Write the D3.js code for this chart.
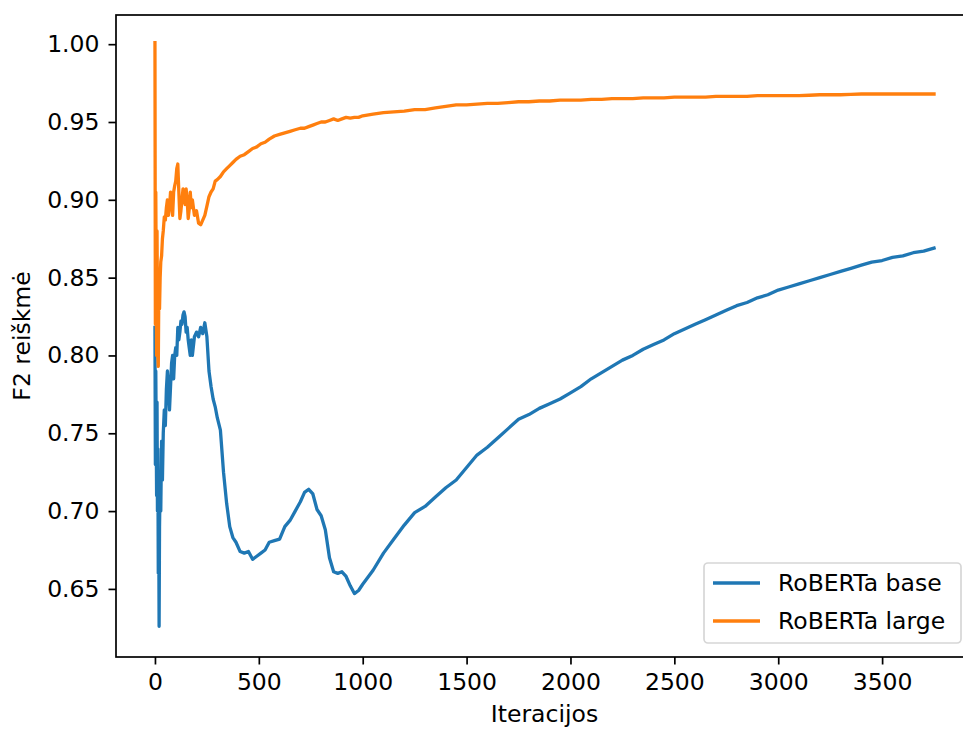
<!DOCTYPE html>
<html><head><meta charset="utf-8">
<script src="https://cdn.jsdelivr.net/npm/d3@7"></script>
<style>body{margin:0;background:#fff;} svg{display:block;} text{font-family:"DejaVu Sans",sans-serif;fill:#000;}</style>
</head><body>
<svg id="chart" width="963" height="729"></svg>
<script>
const iterations = [0,2,4,6,8,10,12,14,16,18,20,22,25,28,32,36,40,45,50,55,60,65,70,75,80,85,90,95,100,105,110,115,120,125,130,135,140,145,150,155,160,165,170,175,180,190,200,210,220,230,240,250,260,270,280,290,300,315,330,345,360,375,390,410,430,450,470,490,510,530,550,575,600,625,650,675,700,720,740,760,780,800,820,840,860,880,900,920,940,960,980,1000,1050,1100,1150,1200,1250,1300,1350,1400,1450,1500,1550,1600,1650,1700,1750,1800,1850,1900,1950,2000,2050,2100,2150,2200,2250,2300,2350,2400,2450,2500,2550,2600,2650,2700,2750,2800,2850,2900,2950,3000,3050,3100,3150,3200,3250,3300,3350,3400,3450,3500,3550,3600,3650,3700,3750];

const robertaBase = [0.818,0.73,0.79,0.75,0.71,0.77,0.70,0.74,0.66,0.70,0.626,0.69,0.72,0.70,0.745,0.72,0.75,0.765,0.755,0.778,0.79,0.78,0.765,0.78,0.795,0.80,0.785,0.80,0.805,0.80,0.818,0.81,0.815,0.822,0.82,0.826,0.828,0.825,0.815,0.818,0.81,0.805,0.80,0.81,0.80,0.812,0.815,0.812,0.818,0.814,0.821,0.812,0.79,0.78,0.772,0.767,0.76,0.752,0.725,0.705,0.69,0.683,0.68,0.674,0.673,0.674,0.669,0.671,0.673,0.675,0.68,0.681,0.682,0.69,0.694,0.70,0.706,0.712,0.714,0.711,0.701,0.697,0.688,0.670,0.661,0.660,0.661,0.658,0.652,0.647,0.649,0.653,0.662,0.673,0.682,0.691,0.699,0.703,0.709,0.715,0.720,0.728,0.736,0.741,0.747,0.753,0.759,0.762,0.766,0.769,0.772,0.776,0.780,0.785,0.789,0.793,0.797,0.800,0.804,0.807,0.810,0.814,0.817,0.820,0.823,0.826,0.829,0.832,0.834,0.837,0.839,0.842,0.844,0.846,0.848,0.850,0.852,0.854,0.856,0.858,0.860,0.861,0.863,0.864,0.866,0.867,0.869];

const robertaLarge = [1.001,0.82,0.905,0.85,0.80,0.88,0.83,0.80,0.793,0.83,0.845,0.83,0.85,0.86,0.864,0.875,0.88,0.889,0.887,0.895,0.90,0.89,0.895,0.905,0.902,0.89,0.905,0.909,0.912,0.92,0.923,0.905,0.888,0.893,0.90,0.907,0.905,0.897,0.907,0.90,0.888,0.894,0.905,0.895,0.90,0.89,0.893,0.885,0.884,0.887,0.89,0.896,0.902,0.905,0.907,0.912,0.913,0.915,0.918,0.920,0.922,0.924,0.926,0.928,0.929,0.931,0.933,0.934,0.936,0.937,0.939,0.941,0.942,0.943,0.944,0.945,0.946,0.946,0.947,0.948,0.949,0.950,0.950,0.951,0.952,0.951,0.952,0.953,0.9525,0.953,0.953,0.954,0.955,0.956,0.9565,0.957,0.958,0.958,0.959,0.960,0.961,0.961,0.9615,0.962,0.962,0.9625,0.963,0.963,0.9635,0.9635,0.964,0.964,0.964,0.9645,0.9645,0.965,0.965,0.965,0.9655,0.9655,0.9655,0.966,0.966,0.966,0.966,0.9665,0.9665,0.9665,0.9665,0.967,0.967,0.967,0.967,0.967,0.9672,0.9675,0.9675,0.9675,0.9677,0.968,0.968,0.968,0.968,0.968,0.968,0.968,0.968];

const seriesNames = ["RoBERTa base","RoBERTa large"];
const seriesColors = ["#1f77b4","#ff7f0e"];
const xTicks = [0,500,1000,1500,2000,2500,3000,3500];
const yTicks = [0.65,0.70,0.75,0.80,0.85,0.90,0.95,1.00];
const xLabel = "Iteracijos";
const yLabel = "F2 reiškmė";

const svg = d3.select("#chart");
const L = 116, R = 973, T = 15, B = 657;
const fs = 23.5;
const x = d3.scaleLinear().domain([-187.5, 3937.5]).range([L, R]);
const y = d3.scaleLinear().domain([0.60625, 1.01875]).range([B, T]);

svg.append("clipPath").attr("id","clip").append("rect")
  .attr("x",L).attr("y",T).attr("width",R-L).attr("height",B-T);

const series = [robertaBase, robertaLarge];
const line = d3.line().x((d,i)=>x(iterations[i])).y(d=>y(d));
series.forEach((s,k)=>{
  svg.append("path").datum(s).attr("d",line)
    .attr("fill","none").attr("stroke",seriesColors[k]).attr("stroke-width",3.3)
    .attr("stroke-linejoin","round").attr("stroke-linecap","square")
    .attr("clip-path","url(#clip)");
});

// axes
const xAxis = d3.axisBottom(x).tickValues(xTicks).tickSize(7.5).tickPadding(8.5).tickFormat(d3.format("d"));
const yAxis = d3.axisLeft(y).tickValues(yTicks).tickSize(7.5).tickPadding(9).tickFormat(d3.format(".2f"));
const gx = svg.append("g").attr("transform",`translate(0,${B})`).call(xAxis);
const gy = svg.append("g").attr("transform",`translate(${L},0)`).call(yAxis);
[gx,gy].forEach(g=>{
  g.select(".domain").remove();
  g.selectAll(".tick line").attr("stroke","#000").attr("stroke-width",1.7);
  g.selectAll(".tick text").attr("font-size",fs).attr("font-family","DejaVu Sans").attr("fill","#000");
});

// spines
svg.append("rect").attr("x",L).attr("y",T).attr("width",R-L).attr("height",B-T)
  .attr("fill","none").attr("stroke","#000").attr("stroke-width",1.7);

// axis labels
svg.append("text").attr("x",(L+R)/2).attr("y",722).attr("text-anchor","middle")
  .attr("font-size",fs).text(xLabel);
svg.append("text").attr("transform",`translate(30,${(T+B)/2}) rotate(-90)`)
  .attr("text-anchor","middle").attr("font-size",fs).text(yLabel);

// legend
const lg = svg.append("g");
lg.append("rect").attr("x",704).attr("y",563).attr("width",257).attr("height",80)
  .attr("rx",4).attr("fill","#fff").attr("fill-opacity",0.8).attr("stroke","#d6d6d6").attr("stroke-width",1.7);
seriesNames.forEach((n,k)=>{
  const yy = 583 + k*38;
  lg.append("line").attr("x1",713).attr("x2",760).attr("y1",yy).attr("y2",yy)
    .attr("stroke",seriesColors[k]).attr("stroke-width",3.3);
  lg.append("text").attr("x",778).attr("y",yy).attr("dy","0.36em").attr("font-size",fs).text(n);
});
</script>
</body></html>
